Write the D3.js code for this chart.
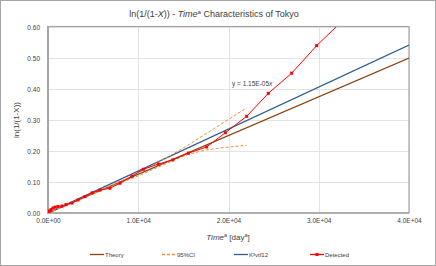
<!DOCTYPE html>
<html><head><meta charset="utf-8">
<script src="https://cdn.jsdelivr.net/npm/d3@7"></script>
<style>body{margin:0;background:#fff}svg{display:block}text{font-family:"Liberation Sans",Arial,sans-serif}</style>
</head><body>
<script>
const xTicks = [0, 10000, 20000, 30000, 40000];
const xTickLabels = ["0.0E+00", "1.0E+04", "2.0E+04", "3.0E+04", "4.0E+04"];
const yTicks = [0, 0.1, 0.2, 0.3, 0.4, 0.5, 0.6];
const yTickLabels = ["0.00", "0.10", "0.20", "0.30", "0.40", "0.50", "0.60"];
const theoryX = [0, 40000];
const theoryY = [0, 0.50];
const fitX = [0, 40000];
const fitY = [0, 0.542];
const ciUpperX = [0, 5000, 10000, 15000, 18000, 22000];
const ciUpperY = [0, 0.063, 0.13, 0.21, 0.265, 0.339];
const ciLowerX = [0, 5000, 10000, 13000, 15000, 17000, 19500, 22000];
const ciLowerY = [0, 0.062, 0.12, 0.158, 0.183, 0.200, 0.211, 0.218];
const detX = [33, 170, 330, 550, 780, 1100, 1550, 2000, 2660, 3320, 4100, 4880, 5760, 6870, 7980, 9310, 10560, 12220, 13820, 15550, 17580, 19650, 22020, 24410, 27000, 29770, 33000];
const detY = [0.004, 0.0065, 0.011, 0.016, 0.019, 0.021, 0.0225, 0.027, 0.032, 0.042, 0.053, 0.065, 0.074, 0.080, 0.096, 0.119, 0.141, 0.158, 0.171, 0.193, 0.213, 0.259, 0.312, 0.386, 0.451, 0.540, 0.63];
const legendNames = ["Theory", "95%CI", "K³vtf12", "Detected"];
const fitLabel = "y = 1.15E-05";

const W = 436, H = 266;
const svg = d3.select("body").append("svg").attr("width", W).attr("height", H);
svg.append("rect").attr("x", 0.5).attr("y", 0.5).attr("width", W - 1).attr("height", H - 1)
  .attr("fill", "#fff").attr("stroke", "#a6a6a6");

const x = d3.scaleLinear().domain([0, 40000]).range([48, 409]);
const y = d3.scaleLinear().domain([0, 0.6]).range([213, 27]);

svg.append("defs").append("clipPath").attr("id", "clip")
  .append("rect").attr("x", 48).attr("y", 27).attr("width", 361).attr("height", 186);

// gridlines
const g = svg.append("g");
g.selectAll(".hg").data(yTicks.slice(1)).enter().append("line")
  .attr("x1", 48).attr("x2", 409).attr("y1", d => Math.round(y(d)) + 0.5).attr("y2", d => Math.round(y(d)) + 0.5)
  .attr("stroke", "#e3e3e3");
g.selectAll(".vg").data(xTicks.slice(1)).enter().append("line")
  .attr("y1", 27).attr("y2", 213).attr("x1", d => Math.round(x(d)) + 0.5).attr("x2", d => Math.round(x(d)) + 0.5)
  .attr("stroke", "#e3e3e3");
// plot border
svg.append("rect").attr("x", 48).attr("y", 26.5).attr("width", 361).attr("height", 186.5)
  .attr("fill", "none").attr("stroke", "#a6a6a6").attr("stroke-width", 1.2);
svg.append("line").attr("x1", 48).attr("x2", 48).attr("y1", 26).attr("y2", 214).attr("stroke", "#a6a6a6").attr("stroke-width", 2);
svg.append("line").attr("x1", 47).attr("x2", 409).attr("y1", 213).attr("y2", 213).attr("stroke", "#a6a6a6").attr("stroke-width", 1.5);

// axes
const xAxis = d3.axisBottom(x).tickValues(xTicks).tickFormat((d, i) => xTickLabels[i]).tickSize(0).tickPadding(5);
const xa = svg.append("g").attr("transform", "translate(0,213)").call(xAxis);
xa.select(".domain").remove();
xa.selectAll("text").attr("font-size", 6.5).attr("fill", "#404040");
const yAxis = d3.axisLeft(y).tickValues(yTicks).tickFormat((d, i) => yTickLabels[i]).tickSize(0).tickPadding(8);
const ya = svg.append("g").attr("transform", "translate(48,0)").call(yAxis);
ya.select(".domain").remove();
ya.selectAll("text").attr("font-size", 6.5).attr("fill", "#404040");

const line = d3.line().x(d => x(d[0])).y(d => y(d[1]));
const plot = svg.append("g").attr("clip-path", "url(#clip)");
const zip = (a, b) => a.map((v, i) => [v, b[i]]);

plot.append("path").datum(zip(theoryX, theoryY)).attr("d", line).attr("fill", "none").attr("stroke", "#8B4513").attr("stroke-width", 1.3);
plot.append("path").datum(zip(fitX, fitY)).attr("d", line).attr("fill", "none").attr("stroke", "#2E5E8E").attr("stroke-width", 1.3);
const curve = d3.line().x(d => x(d[0])).y(d => y(d[1])).curve(d3.curveMonotoneX);
plot.append("path").datum(zip(ciUpperX, ciUpperY)).attr("d", curve).attr("fill", "none").attr("stroke", "#F58A3C").attr("stroke-width", 1).attr("stroke-dasharray", "3,2");
plot.append("path").datum(zip(ciLowerX, ciLowerY)).attr("d", curve).attr("fill", "none").attr("stroke", "#F58A3C").attr("stroke-width", 1).attr("stroke-dasharray", "3,2");
const det = zip(detX, detY);
plot.append("path").datum(det).attr("d", line).attr("fill", "none").attr("stroke", "#FF0000").attr("stroke-width", 1);
plot.selectAll(".pt").data(det).enter().append("rect")
  .attr("x", d => x(d[0]) - 1.5).attr("y", d => y(d[1]) - 1.5).attr("width", 3).attr("height", 3).attr("fill", "#FF0000");

// fit label
const fl = svg.append("text").attr("x", 232).attr("y", 85.5).attr("font-size", 6.5).attr("fill", "#404040");
fl.append("tspan").text(fitLabel);
fl.append("tspan").attr("font-style", "italic").text("x");

// title
const t = svg.append("text").attr("x", 214).attr("y", 17).attr("text-anchor", "middle").attr("font-size", 9).attr("fill", "#404040");
t.append("tspan").text("ln(1/(1-");
t.append("tspan").attr("font-style", "italic").text("X");
t.append("tspan").text(")) - ");
t.append("tspan").attr("font-style", "italic").text("Time");
t.append("tspan").attr("font-size", 6).attr("dy", -3).text("a");
t.append("tspan").attr("dy", 3).text(" Characteristics of Tokyo");

// y label
svg.append("text").attr("transform", "translate(19,120) rotate(-90)").attr("text-anchor", "middle")
  .attr("font-size", 8).attr("fill", "#404040").text("ln(1/(1-X))");

// x label
const xl = svg.append("text").attr("x", 228).attr("y", 240).attr("text-anchor", "middle").attr("font-size", 8).attr("fill", "#404040");
xl.append("tspan").attr("font-style", "italic").text("Time");
xl.append("tspan").attr("font-size", 5.5).attr("dy", -3).text("a");
xl.append("tspan").attr("dy", 3).text(" [day");
xl.append("tspan").attr("font-size", 5.5).attr("dy", -3).text("a");
xl.append("tspan").attr("dy", 3).text("]");

// legend
const legX = [90, 162, 234, 310];
const leg = svg.append("g");
const styles = [
  {c: "#8B4513", dash: null, m: false},
  {c: "#F58A3C", dash: "3,2", m: false},
  {c: "#2E5E8E", dash: null, m: false},
  {c: "#FF0000", dash: null, m: true}
];
legendNames.forEach((n, i) => {
  const lx = legX[i], ly = 254.5;
  leg.append("line").attr("x1", lx).attr("x2", lx + 14).attr("y1", ly).attr("y2", ly)
    .attr("stroke", styles[i].c).attr("stroke-width", 1.3).attr("stroke-dasharray", styles[i].dash);
  if (styles[i].m) leg.append("rect").attr("x", lx + 5.5).attr("y", ly - 1.5).attr("width", 3).attr("height", 3).attr("fill", styles[i].c);
  leg.append("text").attr("x", lx + 15).attr("y", ly + 2.3).attr("font-size", 6).attr("fill", "#404040").text(n);
});
</script>
</body></html>
